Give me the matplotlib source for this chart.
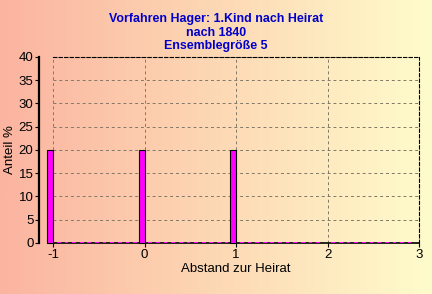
import matplotlib
matplotlib.use("Agg")
import matplotlib.pyplot as plt
import numpy as np
from matplotlib.colors import LinearSegmentedColormap

plt.rcParams['font.family'] = ['Liberation Sans', 'DejaVu Sans']
plt.rcParams['axes.unicode_minus'] = False

# Abstand in Jahren (Monatsraster), Anteil in %
peaks_x = [-1, 0, 1]
peaks_y = [20, 20, 20]
zero_x = [m / 12 for m in range(-11, 36) if m % 12 != 0]

title = "Vorfahren Hager: 1.Kind nach Heirat\nnach 1840\nEnsemblegröße 5"

fig = plt.figure(figsize=(4.32, 2.94), dpi=100)

# Hintergrund-Verlauf
bg = fig.add_axes([0, 0, 1, 1], zorder=-10)
cmap = LinearSegmentedColormap.from_list("bg", ["#fbb4a0", "#fdd8b4", "#fffccc"])
bg.imshow(np.linspace(0, 1, 256).reshape(1, -1), cmap=cmap, aspect="auto", extent=[0, 1, 0, 1])
bg.axis("off")

ax = fig.add_axes([0.1227, 0.1735, 0.8473, 0.633])
ax.patch.set_alpha(0)

w = 0.065
ax.bar(zero_x, [0.15] * len(zero_x), width=-0.04, align="edge", color="#ff00ff", linewidth=0, zorder=3, clip_on=False)
ax.bar(peaks_x, peaks_y, width=-w, align="edge", color="#ff00ff", edgecolor="black", linewidth=0.8, zorder=4, clip_on=False)

ax.set_xlim(-1, 3)
ax.set_ylim(0, 40)
ax.set_xticks([-1, 0, 1, 2, 3])
ax.set_yticks(range(0, 41, 5))
ax.grid(True, linestyle=(0, (3, 3)), color="#807868", linewidth=0.7)
ax.set_axisbelow(True)

for s in ["top", "right"]:
    ax.spines[s].set_linestyle((0, (3, 2)))
    ax.spines[s].set_linewidth(0.8)
ax.spines["bottom"].set_linewidth(1.2)
ax.spines["left"].set_position(("outward", 10))
ax.spines["left"].set_linewidth(1.6)
ax.tick_params(labelsize=9.5, length=3, width=0.8, pad=1, colors="black")

ax.set_xlabel("Abstand zur Heirat", fontsize=9.5, labelpad=2)
ax.set_ylabel("Anteil %", fontsize=9.5)
ax.yaxis.set_label_coords(-0.1, 0.5)

fig.text(0.5, 0.955, title, ha="center", va="top", fontsize=8.9, fontweight="bold",
         color="#0000cc", linespacing=1.15)

fig.savefig("out.png", dpi=100)
